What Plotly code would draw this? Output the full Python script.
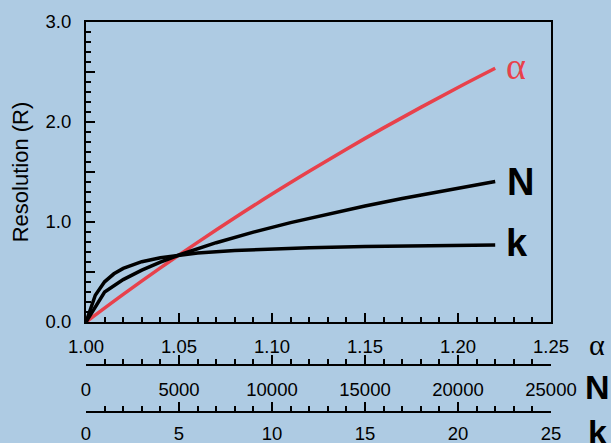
import plotly.graph_objects as go

# Resolution as a function of selectivity (alpha), plate number (N) and retention factor (k)
alpha_vals = [1.00, 1.02, 1.04, 1.06, 1.08, 1.10, 1.12, 1.14, 1.16, 1.18, 1.20, 1.22]
alpha_res = [0.0, 0.276, 0.541, 0.796, 1.042, 1.279, 1.507, 1.728, 1.941, 2.146, 2.345, 2.537]

n_vals = [0, 1000, 2000, 3000, 4000, 5000, 7000, 9000, 11000, 13000, 15000, 17000, 19000, 22000]
n_res = [0.0, 0.30, 0.424, 0.519, 0.599, 0.670, 0.793, 0.899, 0.994, 1.080, 1.160, 1.235, 1.306, 1.405]

k_vals = [0, 0.5, 1.0, 1.5, 2, 3, 4, 5, 6, 8, 10, 12, 15, 18, 22]
k_res = [0.0, 0.268, 0.402, 0.482, 0.536, 0.603, 0.643, 0.670, 0.689, 0.715, 0.731, 0.742, 0.754, 0.762, 0.769]

y_ticks = [0, 0.5, 1.0, 1.5, 2.0, 2.5, 3.0]
y_text = ["0.0", "", "1.0", "", "2.0", "", "3.0"]
a_ticks = [1.00, 1.05, 1.10, 1.15, 1.20, 1.25]
a_text = ["1.00", "1.05", "1.10", "1.15", "1.20", "1.25"]
n_ticks = [0, 5000, 10000, 15000, 20000, 25000]
k_ticks = [0, 5, 10, 15, 20, 25]

BG = "#aecbe3"
RED = "#e8414b"
FONT = "Liberation Sans, Arial, sans-serif"
SERIF = "Liberation Serif, Times New Roman, serif"

# pixel geometry of the figure
W, H = 611, 443
ML, MR, MT, MB = 86, 60, 22, 31
PW, PH = W - ML - MR, H - MT - MB


def px_x(x):
    return (x - ML) / PW


def px_y(y):
    return (H - MB - y) / PH


fig = go.Figure()
fig.add_trace(go.Scatter(x=alpha_vals, y=alpha_res, mode="lines", line_shape="spline",
                         line=dict(color=RED, width=3.5), xaxis="x", yaxis="y"))
fig.add_trace(go.Scatter(x=n_vals, y=n_res, mode="lines",
                         line=dict(color="black", width=3.5), xaxis="x2", yaxis="y"))
fig.add_trace(go.Scatter(x=k_vals, y=k_res, mode="lines",
                         line=dict(color="black", width=3.5), xaxis="x3", yaxis="y"))

tickfont = dict(family=FONT, size=18.5, color="black")


def axis_common(minor_dtick, standoff=9):
    return dict(showgrid=False, zeroline=False, showline=True, linecolor="black",
                linewidth=2, ticks="inside", ticklen=9, tickwidth=2, tickcolor="black",
                tickfont=tickfont, ticklabelstandoff=standoff, automargin=False,
                minor=dict(dtick=minor_dtick, ticks="inside", ticklen=5,
                           tickwidth=2, tickcolor="black", showgrid=False))


fig.update_layout(
    width=W, height=H,
    margin=dict(l=ML, r=MR, t=MT, b=MB, autoexpand=False),
    paper_bgcolor=BG, plot_bgcolor=BG,
    showlegend=False,
    yaxis=dict(range=[0, 3], domain=[px_y(322), 1], tickmode="array",
               tickvals=y_ticks, ticktext=y_text, mirror=True,
               title=dict(text="Resolution (R)", font=dict(family=FONT, size=22, color="black"),
                          standoff=11),
               **axis_common(0.1)),
    xaxis=dict(range=[1.0, 1.25], tickmode="array", tickvals=a_ticks, ticktext=a_text,
               mirror=True, anchor="y", **axis_common(0.01, 7)),
    xaxis2=dict(range=[0, 25000], tickmode="array", tickvals=n_ticks,
                ticktext=[str(v) for v in n_ticks], overlaying="x", anchor="free",
                position=px_y(365), side="bottom", **axis_common(1000, 8)),
    xaxis3=dict(range=[0, 25], tickmode="array", tickvals=k_ticks,
                ticktext=[str(v) for v in k_ticks], overlaying="x", anchor="free",
                position=0.0, side="bottom", **axis_common(1, 5)),
)

# Curve labels
fig.add_annotation(x=1.2235, y=alpha_res[-1], xref="x", yref="y", text="α", showarrow=False,
                   xanchor="left", yanchor="middle", xshift=2, yshift=2,
                   font=dict(family=SERIF, size=38, color=RED))
fig.add_annotation(x=22300, y=n_res[-1], xref="x2", yref="y", text="<b>N</b>", showarrow=False,
                   xanchor="left", yanchor="middle", xshift=4,
                   font=dict(family=FONT, size=38, color="black"))
fig.add_annotation(x=22.3, y=k_res[-1], xref="x3", yref="y", text="<b>k</b>", showarrow=False,
                   xanchor="left", yanchor="middle", xshift=3, yshift=2,
                   font=dict(family=FONT, size=38, color="black"))

# Axis symbols at the right of each x scale
fig.add_annotation(text="α", showarrow=False, xref="paper", yref="paper",
                   x=px_x(597), y=px_y(344), xanchor="center", yanchor="middle",
                   font=dict(family=SERIF, size=30, color="black"))
for txt, ypx in [("<b>N</b>", 387), ("<b>k</b>", 432)]:
    fig.add_annotation(text=txt, showarrow=False, xref="paper", yref="paper",
                       x=px_x(597), y=px_y(ypx), xanchor="center", yanchor="middle",
                       font=dict(family=FONT, size=34, color="black"))

fig.write_html("out.html")
